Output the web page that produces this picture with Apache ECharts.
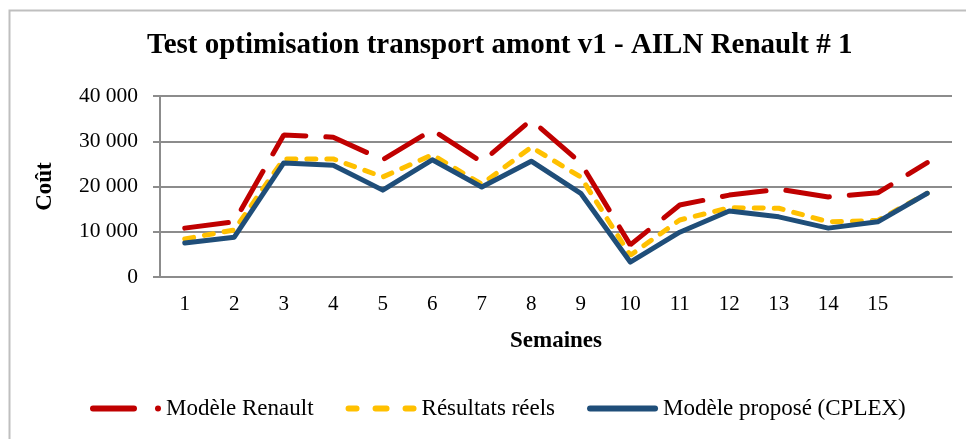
<!DOCTYPE html>
<html>
<head>
<meta charset="utf-8">
<script src="https://cdn.jsdelivr.net/npm/echarts@6/dist/echarts.min.js"></script>
<style>
  html, body { margin: 0; padding: 0; background: #fff; }
  #chart { width: 966px; height: 439px; }
</style>
</head>
<body>
<div id="chart"></div>
<script>
const semaines = ['1', '2', '3', '4', '5', '6', '7', '8', '9', '10', '11', '12', '13', '14', '15', ''];
const modeleRenault = [10800, 12200, 31400, 30900, 25900, 32500, 25400, 34700, 25200, 7100, 15900, 18100, 19400, 17700, 18600, 25300];
const resultatsReels = [8400, 10400, 26100, 26100, 22100, 27000, 20500, 28700, 22100, 4800, 12600, 15300, 15200, 12200, 12500, 18500];
const modelePropose = [7500, 8800, 25200, 24700, 19200, 25900, 19900, 25600, 18500, 3300, 9900, 14600, 13300, 10800, 12200, 18500];
const yTicks = [0, 10000, 20000, 30000, 40000];

const serif = '"Liberation Serif", "DejaVu Serif", serif';

const chart = echarts.init(document.getElementById('chart'));

const fmt = v => String(v).replace(/\B(?=(\d{3})+(?!\d))/g, ' ');

const option = {
  backgroundColor: '#fff',
  textStyle: { fontFamily: serif, color: '#000' },
  title: {
    text: 'Test optimisation transport amont v1 - AILN Renault # 1',
    left: 142,
    top: 26,
    textStyle: { fontFamily: serif, fontSize: 29, fontWeight: 'bold', color: '#000' }
  },
  graphic: [{
    type: 'rect',
    shape: { x: 9.5, y: 10.5, width: 1000, height: 600 },
    style: { fill: 'none', stroke: '#bfbfbf', lineWidth: 2 },
    silent: true
  }],
  grid: { left: 160, right: 14, top: 96, bottom: 162 },
  legend: {
    left: 85,
    top: 392,
    itemWidth: 71,
    itemHeight: 6,
    itemGap: 32,
    textStyle: { fontFamily: serif, fontSize: 23, color: '#000' },
    data: [
      { name: 'Modèle Renault', icon: 'path://M3,0 H44 A3,3 0 0 1 44,6 H3 A3,3 0 0 1 3,0 Z M68,0 A3,3 0 1 1 68,6 A3,3 0 1 1 68,0 Z' },
      { name: 'Résultats réels', icon: 'path://M3,0 H11 A3,3 0 0 1 11,6 H3 A3,3 0 0 1 3,0 Z M30,0 H41 A3,3 0 0 1 41,6 H30 A3,3 0 0 1 30,0 Z M60,0 H68 A3,3 0 0 1 68,6 H60 A3,3 0 0 1 60,0 Z' },
      { name: 'Modèle proposé (CPLEX)', icon: 'path://M3,0 H68 A3,3 0 0 1 68,6 H3 A3,3 0 0 1 3,0 Z' }
    ]
  },
  xAxis: {
    type: 'category',
    data: semaines,
    boundaryGap: true,
    name: 'Semaines',
    nameLocation: 'middle',
    nameGap: 53,
    nameTextStyle: { fontFamily: serif, fontSize: 23, fontWeight: 'bold', color: '#000' },
    axisLine: { lineStyle: { color: '#8c8c8c', width: 2 } },
    axisTick: { show: false },
    axisLabel: { fontFamily: serif, fontSize: 21, color: '#000', margin: 17, interval: 0 }
  },
  yAxis: {
    type: 'value',
    min: yTicks[0],
    max: yTicks[yTicks.length - 1],
    interval: 10000,
    name: 'Coût',
    nameLocation: 'middle',
    nameGap: 103,
    nameRotate: 90,
    nameTextStyle: { fontFamily: serif, fontSize: 23, fontWeight: 'bold', color: '#000' },
    axisLine: { show: true, lineStyle: { color: '#8c8c8c', width: 2 } },
    axisTick: { show: true, length: 7, lineStyle: { color: '#8c8c8c', width: 2 } },
    splitLine: { lineStyle: { color: '#8c8c8c', width: 2 } },
    axisLabel: { fontFamily: serif, fontSize: 21.5, color: '#000', margin: 22, formatter: fmt }
  },
  series: [
    {
      name: 'Modèle Renault',
      type: 'line',
      data: modeleRenault,
      symbol: 'none',
      color: '#C00000',
      lineStyle: { color: '#C00000', width: 5, type: [44, 20], cap: 'round' }
    },
    {
      name: 'Résultats réels',
      type: 'line',
      data: resultatsReels,
      symbol: 'none',
      color: '#FFC000',
      lineStyle: { color: '#FFC000', width: 5, type: [9, 11], cap: 'round' }
    },
    {
      name: 'Modèle proposé (CPLEX)',
      type: 'line',
      data: modelePropose,
      symbol: 'none',
      color: '#1F4E79',
      lineStyle: { color: '#1F4E79', width: 5, cap: 'round', join: 'round' }
    }
  ]
};

chart.setOption(option);
</script>
</body>
</html>
